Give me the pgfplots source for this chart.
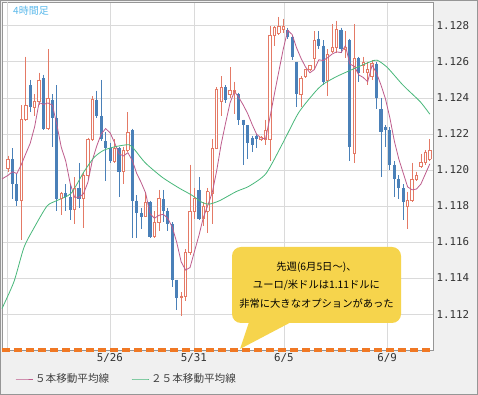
\documentclass[border=0pt]{standalone}
\usepackage{fontspec}
\usepackage{pgfplots}
\usepackage{pgfplotstable}
\pgfplotsset{compat=1.18}
\newfontfamily\jp{Noto Sans CJK JP}
\newfontfamily\mono{DejaVu Sans Mono}
\definecolor{upc}{RGB}{228,122,102}
\definecolor{downc}{RGB}{74,128,184}
\definecolor{maf}{RGB}{190,92,140}
\definecolor{mas}{RGB}{72,184,122}
\definecolor{optc}{RGB}{240,120,36}
\definecolor{callc}{RGB}{246,212,76}
\definecolor{panel}{RGB}{240,240,240}
\definecolor{gridc}{RGB}{218,218,218}
\definecolor{framec}{RGB}{150,150,150}
\definecolor{titlec}{RGB}{90,185,235}

% rising 4h candles (close >= open)
\pgfplotstableread{
n O H L C
1 1.1201 1.1208 1.1199 1.1206
4 1.1183 1.1236 1.1161 1.1228
5 1.1228 1.1263 1.1227 1.1236
7 1.1235 1.1242 1.1230 1.1238
8 1.1238 1.1254 1.1236 1.1250
10 1.1223 1.1267 1.1222 1.1240
13 1.1184 1.1188 1.1175 1.1187
16 1.1178 1.1196 1.1170 1.1190
18 1.1184 1.1199 1.1168 1.1197
19 1.1197 1.1218 1.1195 1.1217
20 1.1217 1.1241 1.1216 1.1239
25 1.1205 1.1217 1.1204 1.1212
27 1.1199 1.1213 1.1192 1.1211
28 1.1211 1.1232 1.1210 1.1221
32 1.1174 1.1187 1.1174 1.1182
34 1.1163 1.1177 1.1162 1.1171
35 1.1171 1.1189 1.1166 1.1184
40 1.1129 1.1132 1.1119 1.1130
41 1.1130 1.1156 1.1127 1.1154
42 1.1154 1.1203 1.1153 1.1177
43 1.1177 1.1190 1.1173 1.1184
45 1.1173 1.1182 1.1169 1.1180
46 1.1177 1.1190 1.1165 1.1188
47 1.1187 1.1217 1.1170 1.1212
48 1.1212 1.1246 1.1212 1.1245
49 1.1238 1.1252 1.1230 1.1246
51 1.1242 1.1257 1.1240 1.1244
52 1.1243 1.1249 1.1231 1.1244
58 1.1217 1.1219 1.1216 1.1218
59 1.1217 1.1228 1.1214 1.1222
60 1.1217 1.1280 1.1205 1.1275
61 1.1275 1.1280 1.1269 1.1279
62 1.1276 1.1285 1.1275 1.1280
63 1.1278 1.1284 1.1276 1.1280
67 1.1242 1.1252 1.1235 1.1251
68 1.1252 1.1256 1.1251 1.1256
69 1.1256 1.1258 1.1255 1.1258
70 1.1262 1.1277 1.1256 1.1272
73 1.1250 1.1267 1.1241 1.1264
74 1.1266 1.1281 1.1265 1.1268
75 1.1268 1.1283 1.1265 1.1278
77 1.1267 1.1277 1.1262 1.1268
79 1.1209 1.1281 1.1204 1.1262
81 1.1258 1.1263 1.1254 1.1260
82 1.1254 1.1260 1.1247 1.1256
83 1.1252 1.1261 1.1250 1.1259
91 1.1180 1.1188 1.1167 1.1183
92 1.1183 1.1204 1.1182 1.1195
93 1.1195 1.1199 1.1194 1.1197
94 1.1202 1.1209 1.1201 1.1204
95 1.1204 1.1211 1.1203 1.1210
96 1.1206 1.1217 1.1205 1.1211
}\up

% falling 4h candles (close < open)
\pgfplotstableread{
n O H L C
2 1.1206 1.1212 1.1184 1.1192
3 1.1192 1.1198 1.1180 1.1183
6 1.1247 1.1250 1.1232 1.1235
9 1.1251 1.1253 1.1222 1.1223
11 1.1239 1.1242 1.1213 1.1229
12 1.1229 1.1247 1.1177 1.1184
14 1.1187 1.1192 1.1177 1.1185
15 1.1185 1.1192 1.1172 1.1178
17 1.1190 1.1204 1.1179 1.1184
21 1.1239 1.1244 1.1229 1.1230
22 1.1230 1.1250 1.1216 1.1217
23 1.1216 1.1221 1.1194 1.1212
24 1.1212 1.1215 1.1204 1.1205
26 1.1212 1.1213 1.1185 1.1199
29 1.1222 1.1223 1.1162 1.1183
30 1.1183 1.1186 1.1162 1.1176
31 1.1176 1.1179 1.1167 1.1174
33 1.1182 1.1183 1.1162 1.1163
36 1.1184 1.1189 1.1171 1.1177
37 1.1177 1.1179 1.1166 1.1170
38 1.1170 1.1171 1.1135 1.1139
39 1.1139 1.1139 1.1122 1.1129
44 1.1189 1.1196 1.1172 1.1173
50 1.1246 1.1247 1.1237 1.1239
53 1.1242 1.1243 1.1225 1.1228
54 1.1228 1.1228 1.1203 1.1225
55 1.1225 1.1225 1.1206 1.1215
56 1.1218 1.1219 1.1210 1.1214
57 1.1219 1.1220 1.1212 1.1217
64 1.1278 1.1279 1.1273 1.1274
65 1.1274 1.1275 1.1261 1.1263
66 1.1260 1.1260 1.1235 1.1242
71 1.1273 1.1277 1.1267 1.1269
72 1.1269 1.1272 1.1247 1.1249
76 1.1278 1.1279 1.1265 1.1267
78 1.1272 1.1273 1.1205 1.1213
80 1.1262 1.1263 1.1249 1.1254
84 1.1259 1.1260 1.1234 1.1240
85 1.1234 1.1240 1.1196 1.1221
86 1.1224 1.1225 1.1213 1.1222
87 1.1222 1.1224 1.1200 1.1203
88 1.1203 1.1205 1.1185 1.1195
89 1.1195 1.1197 1.1184 1.1190
90 1.1190 1.1192 1.1172 1.1182
}\down

\pgfplotstableread{
n ma
-0.35 1.1195
1 1.1197
2 1.1199
3 1.1198
4 1.1203
5 1.12090
6 1.12148
7 1.12240
8 1.12374
9 1.12364
10 1.12372
11 1.12360
12 1.12252
13 1.12126
14 1.12050
15 1.11926
16 1.11848
17 1.11848
18 1.11868
19 1.11932
20 1.12054
21 1.12134
22 1.12200
23 1.12230
24 1.12206
25 1.12152
26 1.12090
27 1.12078
28 1.12096
29 1.12052
30 1.11980
31 1.11930
32 1.11872
33 1.11756
34 1.11732
35 1.11748
36 1.11754
37 1.11730
38 1.11682
39 1.11598
40 1.11490
41 1.11444
42 1.11458
43 1.11548
44 1.11636
45 1.11736
46 1.11804
47 1.11874
48 1.11996
49 1.12142
50 1.12260
51 1.12372
52 1.12436
53 1.12402
54 1.12360
55 1.12312
56 1.12252
57 1.12198
58 1.12178
59 1.12172
60 1.12292
61 1.12422
62 1.12548
63 1.12672
64 1.12776
65 1.12752
66 1.12678
67 1.12620
68 1.12572
69 1.12540
70 1.12558
71 1.12612
72 1.12608
73 1.12624
74 1.12644
75 1.12656
76 1.12652
77 1.12690
78 1.12588
79 1.12576
80 1.12528
81 1.12514
82 1.12490
83 1.12582
84 1.12538
85 1.12472
86 1.12396
87 1.12290
88 1.12162
89 1.12062
90 1.11984
91 1.11906
92 1.11890
93 1.11894
94 1.11922
95 1.11978
96 1.12034
}\mafive

\pgfplotstableread{
n ma
-0.35 1.1123
2.35 1.1138
4.6 1.1157
6.9 1.1168
9.8 1.1180
12.0 1.1183
15.2 1.1187
18.1 1.1199
20.4 1.1207
22.6 1.1211
25.3 1.1213
28.3 1.1214
29.6 1.1211
31.9 1.1204
35.7 1.1196
39.5 1.1190
42.4 1.1186
44.7 1.1182
46.3 1.1181
48.7 1.1183
52.4 1.1188
55.3 1.1191
59.1 1.1198
62.9 1.1215
66.5 1.1232
70.4 1.1244
72.2 1.1248
75.1 1.1252
78.7 1.1256
82.5 1.1260
84.1 1.1261
86.4 1.1257
90.0 1.1247
93.8 1.1238
96.0 1.1231
}\matwentyfive

\pgfplotsset{
  candlebar/.style n args={2}{forget plot, draw=none, mark=none,
    error bars/.cd, y dir=minus, y explicit, error mark=none,
    error bar style={draw=#1, line width=#2, line cap=butt}},
}

\begin{document}
\begin{tikzpicture}
\useasboundingbox (0,0) rectangle (478pt,395pt);
\fill[panel] (0,0) rectangle (478pt,395pt);
\begin{axis}[
  at={(2pt,45pt)}, anchor=south west,
  scale only axis, width=431pt, height=348pt,
  xmin=-0.35, xmax=96.72, ymin=1.110, ymax=1.12933,
  axis background/.style={fill=white},
  axis line style={draw=framec, line width=0.8pt},
  clip=false,
  xtick={23.97,42.89,63.16,86.36},
  xticklabels={5/26,5/31,6/5,6/9},
  extra x ticks={0.775}, extra x tick labels={},
  extra x tick style={grid=major},
  ytick={1.112,1.114,1.116,1.118,1.120,1.122,1.124,1.126,1.128},
  yticklabel pos=right,
  scaled y ticks=false,
  grid=major,
  major grid style={draw=gridc, line width=0.9pt},
  major tick length=0pt,
  /pgf/number format/assume math mode=true,
  ticklabel style={font=\mono\fontsize{10.8}{12}\selectfont, text=black!80},
  y tick label style={/pgf/number format/fixed, /pgf/number format/fixed zerofill, /pgf/number format/precision=3},
  legend columns=2,
  legend style={at={(0,0)}, anchor=west, xshift=10pt, yshift=-29pt,
    draw=none, fill=none, font=\jp\fontsize{10.6}{12}\selectfont, text=black!75,
    /tikz/every even column/.append style={column sep=20pt}},
  legend cell align=left,
]
% wicks
\addplot[candlebar={downc}{0.8pt}] table[x=n, y=H, y error expr=\thisrow{H}-\thisrow{L}] {\down};
\addplot[candlebar={upc}{0.8pt}] table[x=n, y=H, y error expr=\thisrow{H}-\thisrow{L}] {\up};
% falling bodies (filled)
\addplot[candlebar={downc}{3.2pt}] table[x=n, y=O, y error expr=\thisrow{O}-\thisrow{C}] {\down};
% rising bodies (hollow)
\addplot[candlebar={white}{2.6pt}] table[x=n, y=C, y error expr=\thisrow{C}-\thisrow{O}] {\up};
\addplot[candlebar={upc}{0.8pt}] table[x expr=\thisrow{n}-0.27, y=C, y error expr=\thisrow{C}-\thisrow{O}] {\up};
\addplot[candlebar={upc}{0.8pt}] table[x expr=\thisrow{n}+0.27, y=C, y error expr=\thisrow{C}-\thisrow{O}] {\up};
\addplot[forget plot, upc, only marks, mark=-, mark size=1.6pt, mark options={draw=upc, line width=0.8pt}]
  table[x=n, y=O] {\up};
\addplot[forget plot, upc, only marks, mark=-, mark size=1.6pt, mark options={draw=upc, line width=0.8pt}]
  table[x=n, y=C] {\up};
% moving averages
\addplot[maf, line width=0.8pt, mark=none] table[x=n, y=ma] {\mafive};
\addlegendentry{５本移動平均線}
\addplot[mas, line width=0.8pt, mark=none, smooth, tension=0.4] table[x=n, y=ma] {\matwentyfive};
\addlegendentry{２５本移動平均線}
% option level 1.11
\addplot[forget plot, optc, mark=none, line width=3.5pt, dash pattern=on 8pt off 4pt] coordinates {(-0.35,1.110) (96.72,1.110)};
\end{axis}
\fill[callc, rounded corners=9pt] (232pt,72pt) rectangle (401pt,148pt);
\fill[callc] (250pt,76pt) -- (240pt,46pt) -- (297pt,76pt) -- cycle;
\node[align=center, font=\jp\fontsize{10.3}{18.3}\selectfont, text=black] at (316.5pt,110pt)
  {先週(6月5日～)、\\ユーロ/米ドルは1.11ドルに\\非常に大きなオプションがあった};
\node[anchor=west, text=titlec, font=\jp\fontsize{10}{12}\selectfont, inner sep=0pt] at (13pt,384pt) {4時間足};
\draw[framec, line width=1pt] (0.5pt,0.5pt) rectangle (477.5pt,394.5pt);
\end{tikzpicture}
\end{document}
